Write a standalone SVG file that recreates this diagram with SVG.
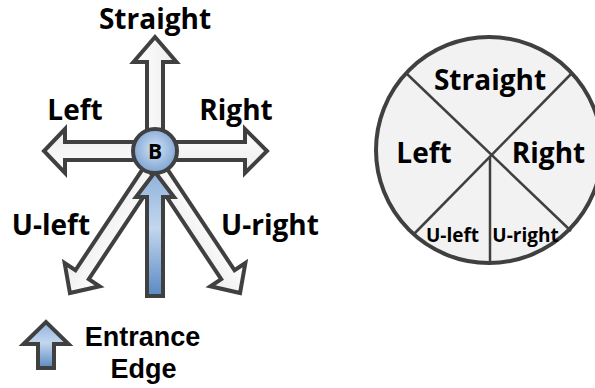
<svg xmlns="http://www.w3.org/2000/svg" width="595" height="388" viewBox="0 0 595 388">
<defs>
<linearGradient id="gW" x1="0" y1="0" x2="0" y2="1">
<stop offset="0" stop-color="#ffffff"/><stop offset="1" stop-color="#ececec"/>
</linearGradient>
<linearGradient id="gB" x1="0" y1="0" x2="1" y2="0">
<stop offset="0" stop-color="#5a89c2"/><stop offset="0.55" stop-color="#c3d7ee"/><stop offset="1" stop-color="#8eb1da"/>
</linearGradient>
<radialGradient id="gC" cx="0.5" cy="0.45" r="0.55">
<stop offset="0" stop-color="#d3e2f4"/><stop offset="1" stop-color="#7ca3d3"/>
</radialGradient>
</defs>
<style>
.arr{fill:url(#gW);stroke:#404040;stroke-width:4;stroke-linejoin:miter}
.blue{fill:url(#gB);stroke:#404040;stroke-width:4;stroke-linejoin:miter}
.lbl{font-family:"Open Sans","Liberation Sans",sans-serif;font-weight:bold;font-size:28px;fill:#000;text-anchor:middle}
.sm{font-size:19px}
.leg{font-family:"Liberation Sans",Arial,sans-serif;font-size:27px}
.pie{fill:#f2f2f2;stroke:#404040;stroke-width:4}
.div{stroke:#404040;stroke-width:2.5;fill:none}
</style>
<g id="connectors">
<polygon class="arr" transform="translate(155,165) rotate(123.6)" points="0,-8 131.7,-8 131.7,-21 153.7,0 131.7,21 131.7,8 0,8"/>
<polygon class="arr" transform="translate(155,165) rotate(56.4)" points="0,-8 131.7,-8 131.7,-21 153.7,0 131.7,21 131.7,8 0,8"/>
<polygon class="arr" transform="translate(155,150) rotate(-90)" points="0,-8 88,-8 88,-21.5 113,0 88,21.5 88,8 0,8"/>
<polygon class="arr" transform="translate(155,151) rotate(180)" points="0,-9 90,-9 90,-22 111,0 90,22 90,9 0,9"/>
<polygon class="arr" transform="translate(155,151)" points="0,-9 90,-9 90,-22 112,0 90,22 90,9 0,9"/>
<polygon class="blue" transform="translate(155,296) rotate(-90)" points="0,-8 99,-8 99,-19 124,0 99,19 99,8 0,8"/>
</g>
<g id="B">
<circle cx="155" cy="151" r="22" fill="url(#gC)" stroke="#404040" stroke-width="4"/>
<text class="lbl" x="155" y="159" style="font-size:21px">B</text>
</g>
<g id="labels">
<text class="lbl" x="155" y="29">Straight</text>
<text class="lbl" x="75" y="120">Left</text>
<text class="lbl" x="236" y="120">Right</text>
<text class="lbl" x="51" y="235">U-left</text>
<text class="lbl" x="270" y="235">U-right</text>
</g>
<g id="legend">
<polygon class="blue" transform="translate(46,368) rotate(-90)" points="0,-8 24,-8 24,-22.5 46,0 24,22.5 24,8 0,8"/>
<text class="lbl leg" x="142.5" y="346">Entrance</text>
<text class="lbl leg" x="143.5" y="378">Edge</text>
</g>
<g id="pie">
<circle class="pie" cx="489" cy="150" r="113"/>
<line class="div" x1="407" y1="74" x2="571" y2="231"/>
<line class="div" x1="572" y1="73" x2="414" y2="234"/>
<line class="div" x1="490" y1="157" x2="490" y2="263"/>
<text class="lbl" x="490" y="90">Straight</text>
<text class="lbl" x="424" y="163">Left</text>
<text class="lbl" x="548.5" y="163">Right</text>
<text class="lbl sm" x="452.5" y="242">U-left</text>
<text class="lbl sm" x="525.5" y="242">U-right</text>
</g>
</svg>
